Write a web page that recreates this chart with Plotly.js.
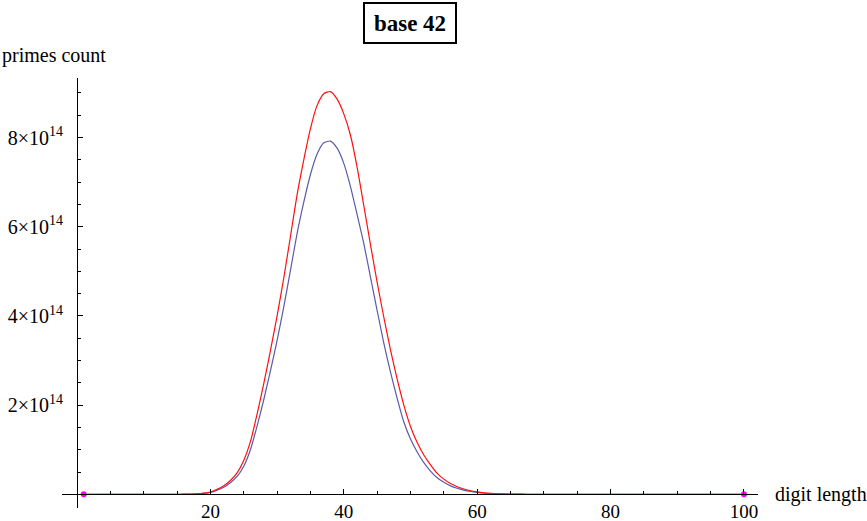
<!DOCTYPE html>
<html>
<head>
<meta charset="utf-8">
<script src="https://cdn.plot.ly/plotly-3.0.1.min.js"></script>
<style>
  html, body { margin: 0; padding: 0; background: #fff; }
  #graph { width: 867px; height: 521px; }
</style>
</head>
<body>
<div id="graph"></div>
<script>
// digit length 1..100
var digits = Array.from({length: 100}, function (_, i) { return i + 1; });

// prime counts, in units of 10^14
var upperCount = [
	0, 0, 0, 0, 0, 0, 0, 0, 0, 0,
	0, 0, 0, 0, 0.001, 0.002, 0.005, 0.01, 0.025, 0.05,
	0.11, 0.19, 0.31, 0.48, 0.76, 1.18, 1.80, 2.48, 3.22, 4.00,
	4.85, 5.78, 6.72, 7.50, 8.20, 8.72, 8.98, 9.03, 8.86, 8.53,
	8.05, 7.33, 6.47, 5.60, 4.75, 3.97, 3.24, 2.58, 2.00, 1.52,
	1.16, 0.88, 0.66, 0.47, 0.34, 0.24, 0.17, 0.12, 0.08, 0.055,
	0.035, 0.022, 0.013, 0.008, 0.005, 0.003, 0.002, 0.001, 0, 0,
	0, 0, 0, 0, 0, 0, 0, 0, 0, 0,
	0, 0, 0, 0, 0, 0, 0, 0, 0, 0,
	0, 0, 0, 0, 0, 0, 0, 0, 0, 0
];
var lowerCount = [
	0, 0, 0, 0, 0, 0, 0, 0, 0, 0,
	0, 0, 0, 0, 0.001, 0.002, 0.004, 0.008, 0.02, 0.04,
	0.09, 0.16, 0.26, 0.40, 0.63, 1.00, 1.53, 2.12, 2.77, 3.45,
	4.20, 5.02, 5.85, 6.55, 7.17, 7.63, 7.88, 7.92, 7.76, 7.42,
	6.90, 6.27, 5.62, 4.87, 4.12, 3.39, 2.74, 2.15, 1.62, 1.24,
	0.95, 0.71, 0.52, 0.37, 0.27, 0.19, 0.135, 0.095, 0.065, 0.044,
	0.028, 0.018, 0.011, 0.007, 0.004, 0.0025, 0.0015, 0.001, 0, 0,
	0, 0, 0, 0, 0, 0, 0, 0, 0, 0,
	0, 0, 0, 0, 0, 0, 0, 0, 0, 0,
	0, 0, 0, 0, 0, 0, 0, 0, 0, 0
];
var endDigits = [1, 100];
var endCounts = [0, 0];

var xTicks = [20, 40, 60, 80, 100];
var yTicks = [2, 4, 6, 8];
var yTickText = [
	"2\u00d710<sup>14</sup>",
	"4\u00d710<sup>14</sup>",
	"6\u00d710<sup>14</sup>",
	"8\u00d710<sup>14</sup>"
];

var scale = 1e14;
function scaled(arr) { return arr.map(function (v) { return v * scale; }); }

var xRange = [-2.25, 102.1];
var yRange = [-0.307 * scale, 9.334 * scale];

var serif = "Liberation Serif, Times New Roman, serif";

var traceLower = {
	x: digits,
	y: scaled(lowerCount),
	type: 'scatter',
	mode: 'lines',
	line: {color: '#5a5aa8', width: 1.2, shape: 'spline', smoothing: 0.6},
	hoverinfo: 'skip'
};
var traceUpper = {
	x: digits,
	y: scaled(upperCount),
	type: 'scatter',
	mode: 'lines',
	line: {color: '#ff1010', width: 1.2, shape: 'spline', smoothing: 0.6},
	hoverinfo: 'skip'
};
var traceEnds = {
	x: endDigits,
	y: endCounts,
	type: 'scatter',
	mode: 'markers',
	marker: {color: '#ff00ff', size: 6},
	hoverinfo: 'skip'
};

var xPos = (0 - yRange[0]) / (yRange[1] - yRange[0]);
var yPos = (0 - xRange[0]) / (xRange[1] - xRange[0]);

var layout = {
	width: 867,
	height: 521,
	margin: {l: 62, r: 109, t: 78, b: 13},
	paper_bgcolor: '#fff',
	plot_bgcolor: '#fff',
	showlegend: false,
	font: {family: serif, size: 20, color: '#000'},
	xaxis: {
		range: xRange,
		anchor: 'free',
		position: xPos,
		showgrid: false,
		zeroline: false,
		showline: true,
		linecolor: '#000',
		linewidth: 1,
		ticks: 'inside',
		ticklen: 5,
		tickcolor: '#000',
		tickvals: xTicks,
		tickfont: {family: serif, size: 19},
		ticklabelstandoff: 0,
		minor: {dtick: 5, ticks: 'inside', ticklen: 3, tickcolor: '#000', showgrid: false},
		automargin: false,
		fixedrange: true
	},
	yaxis: {
		range: yRange,
		anchor: 'free',
		position: yPos,
		showgrid: false,
		zeroline: false,
		showline: true,
		linecolor: '#000',
		linewidth: 1,
		ticks: 'inside',
		ticklen: 5,
		tickcolor: '#000',
		tickvals: scaled(yTicks),
		ticktext: yTickText,
		tickfont: {family: serif, size: 20},
		ticklabelstandoff: 10,
		minor: {dtick: 0.5 * scale, ticks: 'inside', ticklen: 3, tickcolor: '#000', showgrid: false},
		automargin: false,
		fixedrange: true
	},
	annotations: [
		{
			text: '<b>base 42</b>',
			xref: 'paper', yref: 'paper',
			x: 0.5, y: 1.128,
			xanchor: 'center', yanchor: 'middle',
			showarrow: false,
			font: {family: serif, size: 23, color: '#000'},
			bordercolor: '#000',
			borderwidth: 2,
			borderpad: 2,
			width: 86,
			height: 34
		},
		{
			text: 'primes count',
			xref: 'paper', yref: 'paper',
			x: -62 / 696, y: 1 + 23 / 430,
			xanchor: 'left', yanchor: 'middle',
			showarrow: false,
			font: {family: serif, size: 20, color: '#000'}
		},
		{
			text: 'digit length',
			xref: 'paper', yref: 'paper',
			x: 1 + 15 / 696, y: xPos,
			xanchor: 'left', yanchor: 'middle',
			showarrow: false,
			font: {family: serif, size: 20, color: '#000'}
		}
	]
};

var config = {displayModeBar: false, staticPlot: true};
Plotly.newPlot('graph', [traceLower, traceUpper, traceEnds], layout, config);
</script>
</body>
</html>
